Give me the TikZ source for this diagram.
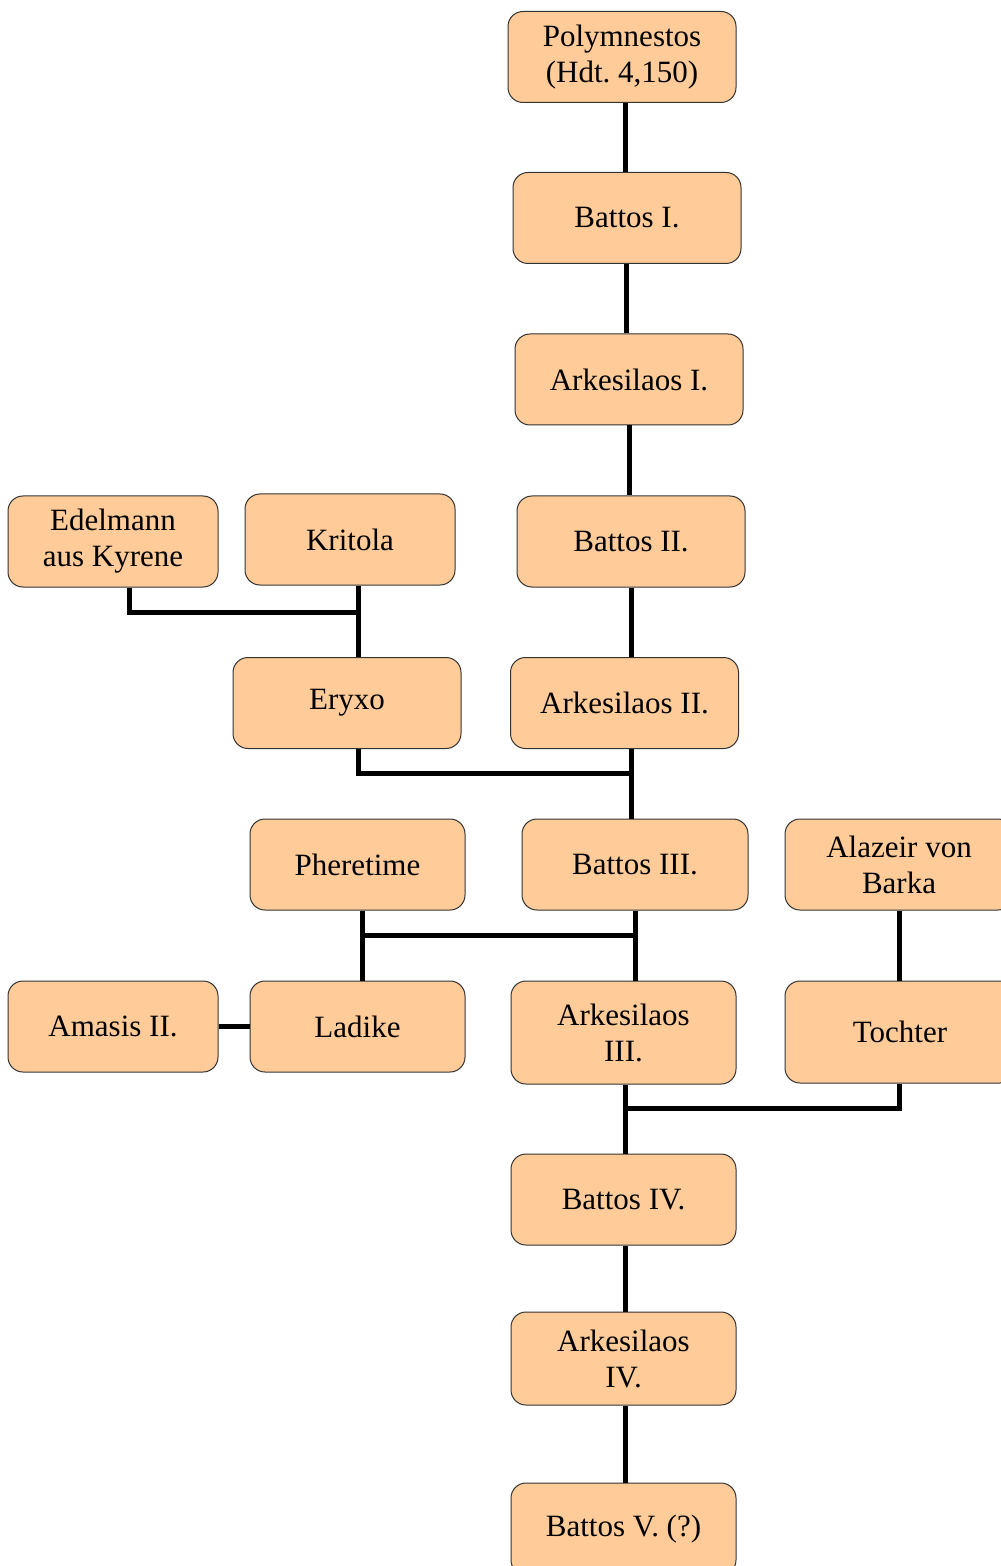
\documentclass[tikz,border=0pt]{standalone}
\usepackage{fontspec}
\setmainfont{Liberation Serif}
\usepackage{tikz}
\usetikzlibrary{positioning}

\definecolor{peach}{HTML}{FFCC99}
\frenchspacing

\begin{document}
\begin{tikzpicture}[x=0.5pt,y=-0.5pt,semithick]
\tikzstyle{every node}=[font=\fontsize{15.5}{18}\selectfont,align=center,inner sep=0pt]
\tikzstyle{person}=[draw=black!80,line width=0.5pt,fill=peach,rounded corners=7.5pt,
                    minimum width=114pt,minimum height=45.5pt]
\tikzstyle{tie}=[draw=black,line width=2.5pt]
\useasboundingbox (0,0) rectangle (1000,1566);

\node [person] (poly) at (622,57) {Polymnestos\\(Hdt. 4,150)};
\node [person] (b1) at (627,218) {Battos I.};
\node [person] (a1) at (629,379.5) {Arkesilaos I.};
\node [person] (b2) at (631,541.5) {Battos II.};
\node [person,minimum width=105pt] (kritola) at (350,539.5) {Kritola};
\node [person,minimum width=105pt] (edel) at (113,541.5) {Edelmann\\aus Kyrene};
\node [person] (eryxo) at (347,703) {Eryxo};
\node [person] (a2) at (624.5,703) {Arkesilaos II.};
\node [person,minimum width=107.5pt] (pher) at (357.5,864.5) {Pheretime};
\node [person,minimum width=113pt] (b3) at (635,864.5) {Battos III.};
\node [person] (alaz) at (899,864.5) {Alazeir von\\Barka};
\node [person,minimum width=105pt] (amasis) at (113,1026.5) {Amasis II.};
\node [person,minimum width=107.5pt] (ladike) at (357.5,1026.5) {Ladike};
\node [person,minimum width=112.5pt,minimum height=51.5pt] (a3) at (623.5,1032.5) {Arkesilaos\\III.};
\node [person,minimum width=115pt,minimum height=51pt] (tochter) at (900,1032) {Tochter};
\node [person,minimum width=112.5pt] (b4) at (623.5,1199.5) {Battos IV.};
\node [person,minimum width=112.5pt,minimum height=46.5pt] (a4) at (623.5,1358.5) {Arkesilaos\\IV.};
\node [person,minimum width=112.5pt,minimum height=46pt] (b5) at (623.5,1529) {Battos V. (?)};

% junctions
\coordinate (j1) at (358,612);
\coordinate (j2) at (631,773);
\coordinate (j3) at (635,935);
\coordinate (j4) at (362,935);
\coordinate (j5) at (625,1108);

\path[tie] ([xshift=1.5pt]poly.south) -- ([xshift=1.5pt]poly.south |- b1.north);
\path[tie] ([xshift=-0.5pt]b1.south) -- ([xshift=-0.5pt]b1.south |- a1.north);
\path[tie] (a1.south) -- (a1.south |- b2.north);
\path[tie] (b2.south) -- (b2.south |- a2.north);
\path[tie] ([xshift=8pt]edel.south) |- (j1);
\path[tie] (kritola.south -| j1) -- (eryxo.north -| j1);
\path[tie] (eryxo.south -| j1) |- (j2);
\path[tie] (a2.south -| j2) -- (b3.north -| j2);
\path[tie] (pher.south -| j4) -- (ladike.north -| j4);
\path[tie] (j4) -- (j3);
\path[tie] (b3.south -| j3) -- (a3.north -| j3);
\path[tie] (amasis.east) -- (ladike.west);
\path[tie] (alaz.south) -- (alaz.south |- tochter.north);
\path[tie] (tochter.south -| alaz) |- (j5);
\path[tie] (a3.south -| j5) -- (b4.north -| j5);
\path[tie] (b4.south -| j5) -- (a4.north -| j5);
\path[tie] (a4.south -| j5) -- (b5.north -| j5);

\end{tikzpicture}
\end{document}
